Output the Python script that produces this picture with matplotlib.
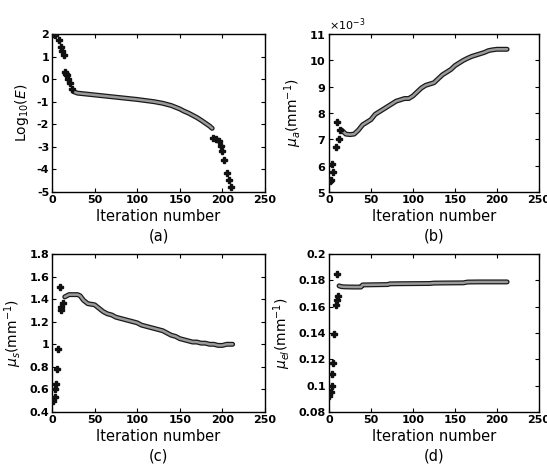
import matplotlib
matplotlib.use("Agg")
import matplotlib.pyplot as plt
import matplotlib.patheffects as pe
from matplotlib.ticker import ScalarFormatter, FuncFormatter

plt.rcParams['axes.unicode_minus'] = False
plt.rcParams['font.family'] = ['DejaVu Sans']
plt.rcParams['mathtext.fontset'] = 'dejavusans'

# ---------------- data ----------------
# (a) log10(E)
a_sparse_x = [1, 3, 8, 10, 12, 14, 15, 16, 18, 19, 21, 23,
              189, 193, 196, 198, 199, 202, 205, 208, 210]
a_sparse_y = [2.0, 1.95, 1.75, 1.42, 1.26, 1.08, 0.32, 0.25, 0.2, 0.02, -0.15, -0.45,
              -2.62, -2.65, -2.76, -2.96, -3.2, -3.58, -4.17, -4.45, -4.78]
a_band_x = [25, 30, 40, 50, 60, 70, 80, 90, 100, 110, 120, 130, 140, 150,
            155, 160, 165, 170, 175, 180, 185, 188]
a_band_y = [-0.55, -0.62, -0.66, -0.70, -0.74, -0.78, -0.82, -0.86, -0.90, -0.95,
            -1.00, -1.07, -1.17, -1.32, -1.42, -1.50, -1.60, -1.70, -1.82, -1.95,
            -2.08, -2.18]

# (b) mu_a (mm^-1)
b_sparse_x = [1, 2, 4, 5, 8, 9, 12, 13]
b_sparse_y = [5.42e-3, 5.47e-3, 6.08e-3, 5.77e-3, 6.71e-3, 7.65e-3, 7.03e-3, 7.37e-3]
b_band_x = [15, 20, 25, 30, 35, 40, 45, 50, 55, 60, 65, 70, 75, 80, 85, 90, 95,
            100, 105, 110, 115, 120, 125, 130, 135, 140, 145, 150, 155, 160, 165,
            170, 175, 180, 185, 190, 195, 200, 205, 212]
b_band_y = [7.35e-3, 7.2e-3, 7.18e-3, 7.2e-3, 7.35e-3, 7.55e-3, 7.65e-3, 7.75e-3,
            7.95e-3, 8.05e-3, 8.15e-3, 8.25e-3, 8.35e-3, 8.45e-3, 8.5e-3, 8.55e-3,
            8.55e-3, 8.65e-3, 8.8e-3, 8.95e-3, 9.05e-3, 9.1e-3, 9.15e-3, 9.3e-3,
            9.45e-3, 9.55e-3, 9.65e-3, 9.8e-3, 9.9e-3, 10.0e-3, 10.08e-3, 10.15e-3,
            10.2e-3, 10.25e-3, 10.3e-3, 10.37e-3, 10.4e-3, 10.42e-3, 10.42e-3, 10.42e-3]

# (c) mu_s (mm^-1)
c_sparse_x = [1, 3, 4, 5, 6, 7, 9, 10, 11, 13]
c_sparse_y = [0.50, 0.53, 0.60, 0.65, 0.78, 0.96, 1.51, 1.33, 1.30, 1.37]
c_band_x = [15, 20, 25, 30, 33, 37, 42, 50, 55, 60, 65, 70, 75, 80, 85, 90, 95,
            100, 105, 110, 115, 120, 125, 130, 135, 140, 145, 150, 155, 160, 165,
            170, 175, 180, 185, 190, 195, 200, 205, 212]
c_band_y = [1.42, 1.44, 1.44, 1.44, 1.43, 1.39, 1.36, 1.35, 1.32, 1.29, 1.27, 1.26,
            1.24, 1.23, 1.22, 1.21, 1.20, 1.19, 1.17, 1.16, 1.15, 1.14, 1.13, 1.12,
            1.10, 1.08, 1.07, 1.05, 1.04, 1.03, 1.02, 1.02, 1.01, 1.01, 1.00, 1.00,
            0.99, 0.99, 1.00, 1.00]

# (d) mu_el (mm^-1)
d_sparse_x = [0, 2, 3, 4, 5, 6, 8, 9, 10, 11]
d_sparse_y = [0.092, 0.095, 0.100, 0.109, 0.117, 0.139, 0.161, 0.185, 0.165, 0.168]
d_band_x = [12, 15, 20, 30, 38, 40, 50, 60, 70, 72, 80, 100, 120, 125, 140, 160,
            165, 180, 200, 212]
d_band_y = [0.1758, 0.1752, 0.1750, 0.1749, 0.1749, 0.1765, 0.1766, 0.1767, 0.1768,
            0.1773, 0.1774, 0.1775, 0.1776, 0.1779, 0.1780, 0.1781, 0.1787, 0.1788,
            0.1788, 0.1788]

x_ticks = [0, 50, 100, 150, 200, 250]
panel_labels = ['(a)', '(b)', '(c)', '(d)']
y_labels = [r'Log$_{10}$($\it{E}$)', r'$\mu_a$(mm$^{-1}$)',
            r'$\mu_s$(mm$^{-1}$)', r'$\mu_{el}$(mm$^{-1}$)']
y_limits = [(-5, 2), (5e-3, 11e-3), (0.4, 1.8), (0.08, 0.2)]
y_ticks = [[-5, -4, -3, -2, -1, 0, 1, 2],
           [5e-3, 6e-3, 7e-3, 8e-3, 9e-3, 10e-3, 11e-3],
           [0.4, 0.6, 0.8, 1.0, 1.2, 1.4, 1.6, 1.8],
           [0.08, 0.1, 0.12, 0.14, 0.16, 0.18, 0.2]]

data = [(a_sparse_x, a_sparse_y, a_band_x, a_band_y),
        (b_sparse_x, b_sparse_y, b_band_x, b_band_y),
        (c_sparse_x, c_sparse_y, c_band_x, c_band_y),
        (d_sparse_x, d_sparse_y, d_band_x, d_band_y)]

# ---------------- figure ----------------
W, H = 547, 468
fig = plt.figure(figsize=(W / 100, H / 100), dpi=100)

rects = [(52, 34, 265, 192), (329, 34, 539, 192),
         (52, 254, 265, 412), (329, 254, 539, 412)]

for i, (l, t, r, b) in enumerate(rects):
    ax = fig.add_axes([l / W, 1 - b / H, (r - l) / W, (b - t) / H])
    sx, sy, bx, by = data[i]
    ax.plot(bx, by, color='#9a9a9a', lw=1.8, solid_capstyle='round', zorder=3,
            path_effects=[pe.Stroke(linewidth=3.6, foreground='#1a1a1a'), pe.Normal()])
    ax.plot(sx, sy, linestyle='none', marker='P', ms=4.5, color='#111111',
            mec='#111111', zorder=4)
    ax.set_xlim(0, 250)
    ax.set_ylim(*y_limits[i])
    ax.set_xticks(x_ticks)
    ax.set_yticks(y_ticks[i])
    ax.tick_params(direction='in', top=True, right=True, length=3, width=0.8,
                   labelsize=8, pad=2)
    for s in ax.spines.values():
        s.set_linewidth(1.0)
    if i == 1:
        fmt = ScalarFormatter(useMathText=True)
        fmt.set_powerlimits((-3, -3))
        ax.yaxis.set_major_formatter(fmt)
        ax.yaxis.get_offset_text().set_fontsize(8)
    else:
        ax.yaxis.set_major_formatter(FuncFormatter(lambda v, p: '%g' % round(v, 4)))
    for lab in ax.get_xticklabels() + ax.get_yticklabels():
        lab.set_fontweight('bold')
    ax.set_ylabel(y_labels[i], fontsize=10, labelpad=4)
    ax.set_xlabel('Iteration number', fontsize=10.5, labelpad=3)
    cx = (l + r) / 2 / W
    cy = 1 - (b + 44) / H
    fig.text(cx, cy, panel_labels[i], ha='center', va='center', fontsize=10.5)

fig.savefig('out.png', dpi=100)
